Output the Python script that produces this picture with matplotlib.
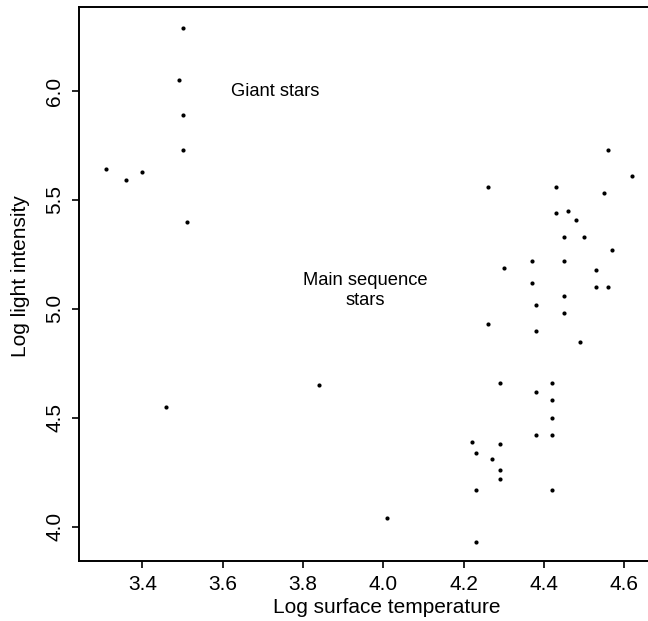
import numpy as np
import matplotlib.pyplot as plt

plt.rcParams["font.family"] = ["Liberation Sans", "DejaVu Sans"]

# log surface temperature / log light intensity
log_temp = [3.50, 3.49, 3.50, 3.50, 3.31, 3.36, 3.40, 3.51, 3.46, 3.84,
            4.01, 4.56, 4.62, 4.26, 4.43, 4.55, 4.43, 4.46, 4.48, 4.45,
            4.50, 4.57, 4.37, 4.30, 4.45, 4.53, 4.37, 4.53, 4.56, 4.45,
            4.38, 4.45, 4.26, 4.38, 4.49, 4.29, 4.42, 4.38, 4.42, 4.42,
            4.38, 4.42, 4.22, 4.29, 4.23, 4.27, 4.29, 4.29, 4.23, 4.42,
            4.23]
log_light = [6.29, 6.05, 5.89, 5.73, 5.64, 5.59, 5.63, 5.40, 4.55, 4.65,
             4.04, 5.73, 5.61, 5.56, 5.56, 5.53, 5.44, 5.45, 5.41, 5.33,
             5.33, 5.27, 5.22, 5.19, 5.22, 5.18, 5.12, 5.10, 5.10, 5.06,
             5.02, 4.98, 4.93, 4.90, 4.85, 4.66, 4.66, 4.62, 4.58, 4.50,
             4.42, 4.42, 4.39, 4.38, 4.34, 4.31, 4.26, 4.22, 4.17, 4.17,
             3.93]

x_ticks = [3.4, 3.6, 3.8, 4.0, 4.2, 4.4, 4.6]
y_ticks = [4.0, 4.5, 5.0, 5.5, 6.0]

fig = plt.figure(figsize=(6.48, 6.21), dpi=100)
ax = fig.add_axes([0.1224, 0.0966, 0.8864, 0.8926])

ax.plot(log_temp, log_light, "o", color="black", markersize=3.0, markeredgewidth=0)

ax.set_xlim(3.243, 4.673)
ax.set_ylim(3.843, 6.387)

ax.set_xticks(x_ticks)
ax.set_xticklabels([f"{t:.1f}" for t in x_ticks])
ax.set_yticks(y_ticks)
ax.set_yticklabels([f"{t:.1f}" for t in y_ticks], rotation=90, va="center")

ax.tick_params(axis="both", labelsize=15, length=5, width=1.2, pad=5)
ax.tick_params(axis="y", pad=6)

for side in ["left", "top", "bottom"]:
    ax.spines[side].set_linewidth(1.4)
ax.spines["right"].set_visible(False)

ax.set_xlabel("Log surface temperature", fontsize=15, va="center")
ax.xaxis.set_label_coords(0.535, -0.0843)
ax.set_ylabel("Log light intensity", fontsize=15, va="center")
ax.yaxis.set_label_coords(-0.1032, 0.5145)

ax.text(3.73, 6.0, "Giant stars", fontsize=13.2, ha="center", va="center")
ax.text(3.956, 5.084, "Main sequence\nstars", fontsize=13.2, ha="center",
        va="center", multialignment="center")

fig.savefig("out.png", dpi=100)
